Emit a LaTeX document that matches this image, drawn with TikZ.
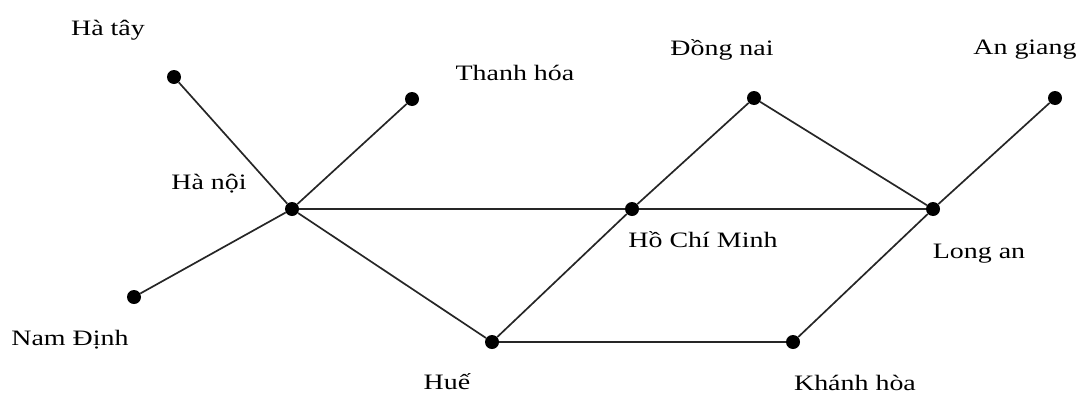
\documentclass[tikz,border=0pt]{standalone}
\usepackage{fontspec}
\setmainfont{Liberation Serif}[FakeStretch=1.27]
\usetikzlibrary{positioning}
\tikzset{
  city/.style={circle, fill=black, inner sep=0pt, minimum size=14pt},
  road/.style={line width=1.7pt, draw=black!85},
  lbl/.style={font=\fontsize{22}{26}\selectfont, inner sep=0pt},
}

\begin{document}
\begin{tikzpicture}[x=1pt, y=-1pt]
  \useasboundingbox (0,0) rectangle (1079,394);
  % cities
  \node[city] (hatay)    at (174,77)  {};
  \node[city] (thanhhoa) at (412,99)  {};
  \node[city] (hanoi)    at (292,209) {};
  \node[city] (namdinh)  at (134,297) {};
  \node[city] (hue)      at (492,342) {};
  \node[city] (hcm)      at (632,209) {};
  \node[city] (dongnai)  at (754,98)  {};
  \node[city] (khanhhoa) at (793,342) {};
  \node[city] (longan)   at (933,209) {};
  \node[city] (angiang)  at (1055,98) {};
  % names
  \node[lbl] (hatay-l)    at (108,30)  {Hà tây};
  \node[lbl] (thanhhoa-l) at (515,73)  {Thanh hóa};
  \node[lbl] (hanoi-l)    at (209,184) {Hà nội};
  \node[lbl] (namdinh-l)  at (70,340)  {Nam Định};
  \node[lbl] (hue-l)      at (447,382) {Huế};
  \node[lbl] (hcm-l)      at (703,240) {Hồ Chí Minh};
  \node[lbl] (dongnai-l)  at (722,50)  {Đồng nai};
  \node[lbl] (khanhhoa-l) at (855,383) {Khánh hòa};
  \node[lbl] (longan-l)   at (979,254) {Long an};
  \node[lbl] (angiang-l)  at (1025,50) {An giang};
  % roads
  \foreach \a/\b in {hatay/hanoi, thanhhoa/hanoi, namdinh/hanoi, hanoi/hue,
                     hanoi/hcm, hcm/longan, hue/hcm, hcm/dongnai,
                     dongnai/longan, hue/khanhhoa, khanhhoa/longan, longan/angiang}
    \draw[road] (\a) -- (\b);
\end{tikzpicture}
\end{document}
